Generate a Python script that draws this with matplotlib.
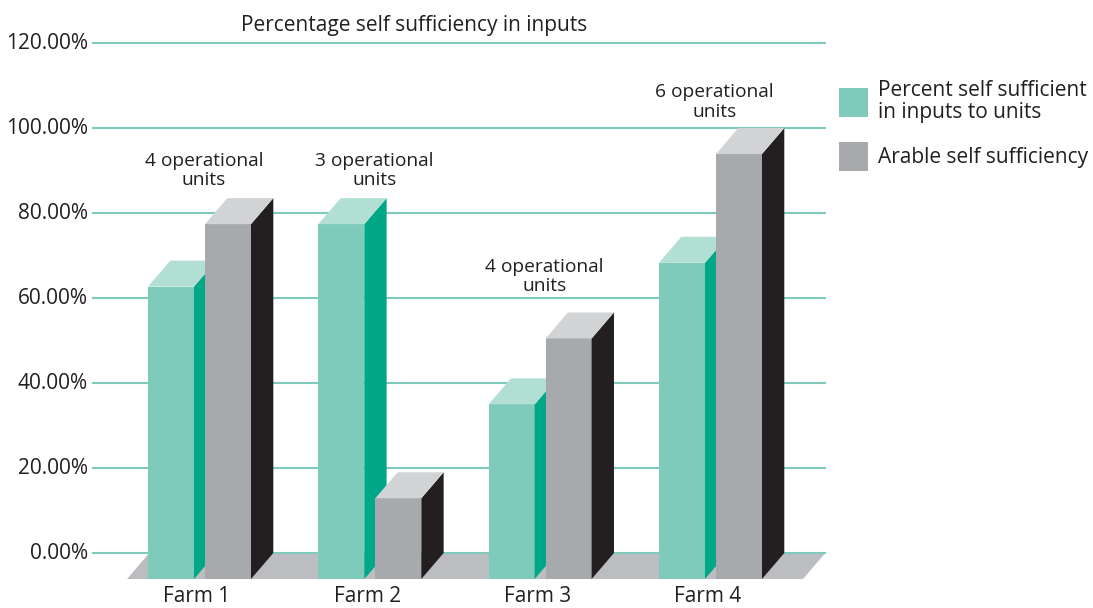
import matplotlib
matplotlib.use("Agg")
import matplotlib.pyplot as plt
from matplotlib.patches import Polygon, Rectangle

# ---- data ----
farms = ["Farm 1", "Farm 2", "Farm 3", "Farm 4"]
inputs_pct = [68.8, 83.5, 41.1, 74.4]        # Percent self sufficient in inputs to units
arable_pct = [83.5, 19.0, 56.6, 100.0]       # Arable self sufficiency
unit_notes = ["4 operational\nunits", "3 operational\nunits",
              "4 operational\nunits", "6 operational\nunits"]
note_y = [90.0, 90.0, 65.1, 106.1]
yticks = [0, 20, 40, 60, 80, 100, 120]
ytick_labels = ["0.00%", "20.00%", "40.00%", "60.00%", "80.00%", "100.00%", "120.00%"]
series_names = ["Percent self sufficient\nin inputs to units", "Arable self sufficiency"]

# ---- style ----
TXT = "#231F20"
GRID = "#7FCBBB"
teal = dict(front="#7FCBBB", side="#00A887", top="#B2DFD3")
grey = dict(front="#A7A9AC", side="#231F20", top="#D1D3D4")
FLOOR = "#BCBDC0"
FONT = "Open Sans"
plt.rcParams["font.family"] = [FONT, "DejaVu Sans"]
FS = 15
FS_NOTE = 13.8

fig = plt.figure(figsize=(10.93, 6.08), dpi=100)
ax = fig.add_axes([0, 0, 1, 1])
ax.set_xlim(-1.1566, 5.2604)
ax.set_ylim(-12.94, 130.12)
ax.axis("off")

W = 0.270      # bar width (category units)
DX = 0.131     # depth offset x
DY = 6.12      # depth offset y (percent units)
OFF_T = -0.2877
OFF_G = 0.0470

# floor
fl, fr = -0.411, 3.558
ax.add_patch(Polygon([(fl, -DY), (fr, -DY), (fr + DX, 0), (fl + DX, 0)],
                     closed=True, fc=FLOOR, ec="none", zorder=1))
# gridlines
for t in yticks:
    ax.plot([-0.616, 3.693], [t, t], color=GRID, lw=1.5, zorder=2,
            solid_capstyle="butt")

def bar3d(x0, v, c, z):
    x1 = x0 + W
    b, t = -DY, v - DY
    ax.add_patch(Polygon([(x0, b), (x1, b), (x1, t), (x0, t)], closed=True,
                         fc=c["front"], ec="none", zorder=z))
    ax.add_patch(Polygon([(x1, b), (x1 + DX, 0), (x1 + DX, v), (x1, t)], closed=True,
                         fc=c["side"], ec="none", zorder=z))
    ax.add_patch(Polygon([(x0, t), (x1, t), (x1 + DX, v), (x0 + DX, v)], closed=True,
                         fc=c["top"], ec="none", zorder=z))

for i in range(len(farms)):
    bar3d(i + OFF_T, inputs_pct[i], teal, 3 + 2 * i)
    bar3d(i + OFF_G, arable_pct[i], grey, 4 + 2 * i)
    ax.text(i, -10.3, farms[i], ha="center", va="center", fontsize=FS, color=TXT)
    ax.text(i + 0.04, note_y[i], unit_notes[i], ha="center", va="center",
            fontsize=FS_NOTE, color=TXT, linespacing=1.1, zorder=20)

for t, lab in zip(yticks, ytick_labels):
    ax.text(-0.64, t, lab, ha="right", va="center", fontsize=FS, color=TXT)

ax.text(1.274, 124.2, "Percentage self sufficiency in inputs", ha="center",
        va="center", fontsize=FS, color=TXT)

# legend
lx = (839 - 197) / 170.33
lw = 29 / 170.33
lh = 29 / 4.25
ax.add_patch(Rectangle((lx, (553 - 117) / 4.25), lw, lh, fc=teal["front"], ec="none"))
ax.add_patch(Rectangle((lx, (553 - 171) / 4.25), lw, lh, fc=grey["front"], ec="none"))
tx = (878 - 197) / 170.33
ax.text(tx, (553 - 101.5) / 4.25, series_names[0], ha="left", va="center",
        fontsize=FS, color=TXT, linespacing=1.1)
ax.text(tx, (553 - 157) / 4.25, series_names[1], ha="left", va="center",
        fontsize=FS, color=TXT)

fig.savefig("out.png", dpi=100)
